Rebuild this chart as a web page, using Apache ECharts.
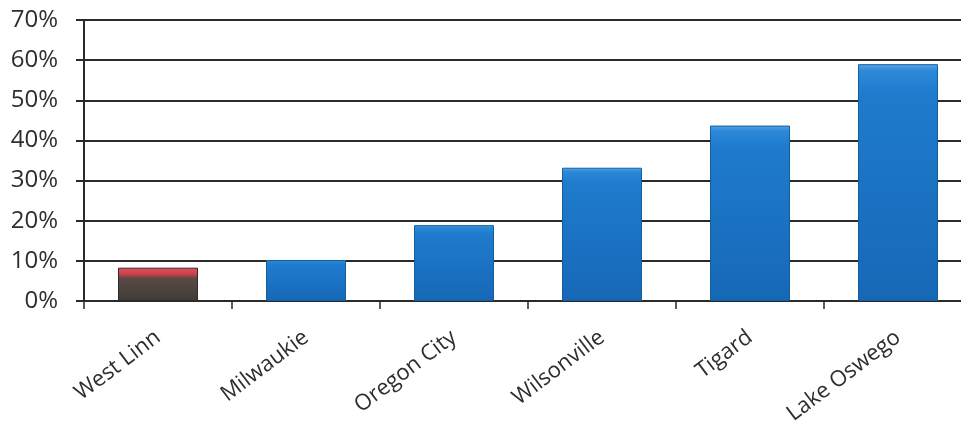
<!DOCTYPE html>
<html>
<head>
<meta charset="utf-8">
<script src="https://cdn.jsdelivr.net/npm/echarts@6/dist/echarts.min.js"></script>
<style>
html,body{margin:0;padding:0;background:#fff;overflow:hidden;width:961px;height:428px;}
#chart{width:975px;height:428px;}
</style>
</head>
<body>
<div id="chart"></div>
<script>
var categories = ['West Linn', 'Milwaukie', 'Oregon City', 'Wilsonville', 'Tigard', 'Lake Oswego'];
var values = [0.083, 0.102, 0.189, 0.332, 0.437, 0.590];
var highlightIndex = 0;

function grad(stops) {
  return new echarts.graphic.LinearGradient(0, 0, 0, 1, stops);
}
var blueFill = grad([
  {offset: 0, color: '#5aa6e6'},
  {offset: 0.03, color: '#2c88d8'},
  {offset: 0.12, color: '#1f7bcd'},
  {offset: 1, color: '#1668b6'}
]);
var brownFill = grad([
  {offset: 0, color: '#e8505c'},
  {offset: 0.2, color: '#c8404a'},
  {offset: 0.32, color: '#5a4a45'},
  {offset: 1, color: '#403a36'}
]);

var chart = echarts.init(document.getElementById('chart'));
chart.setOption({
  animation: false,
  grid: {left: 84, top: 20, bottom: 127, right: 3},
  xAxis: {
    type: 'category',
    data: categories,
    axisLine: {lineStyle: {color: '#2a2a2a', width: 2}},
    axisTick: {show: true, length: 8, lineStyle: {color: '#2a2a2a', width: 1.5}},
    axisLabel: {
      rotate: 37, margin: 34, interval: 0,
      fontFamily: 'Open Sans', fontSize: 22, color: '#2e2e2e'
    }
  },
  yAxis: {
    type: 'value',
    min: 0, max: 0.7, interval: 0.1,
    axisLine: {show: true, lineStyle: {color: '#2a2a2a', width: 2}},
    axisTick: {show: true, length: 8, lineStyle: {color: '#2a2a2a', width: 2}},
    splitLine: {lineStyle: {color: '#2a2a2a', width: 2}},
    axisLabel: {
      margin: 26, fontFamily: 'Open Sans', fontSize: 24, color: '#2e2e2e',
      formatter: function (v) { return Math.round(v * 100) + '%'; }
    }
  },
  series: [{
    type: 'bar',
    barWidth: 80,
    data: values.map(function (v, i) {
      return {
        value: v,
        itemStyle: {
          color: i === highlightIndex ? brownFill : blueFill,
          borderColor: i === highlightIndex ? '#2e2a28' : '#145e9e',
          borderWidth: 1
        }
      };
    })
  }]
});
</script>
</body>
</html>
